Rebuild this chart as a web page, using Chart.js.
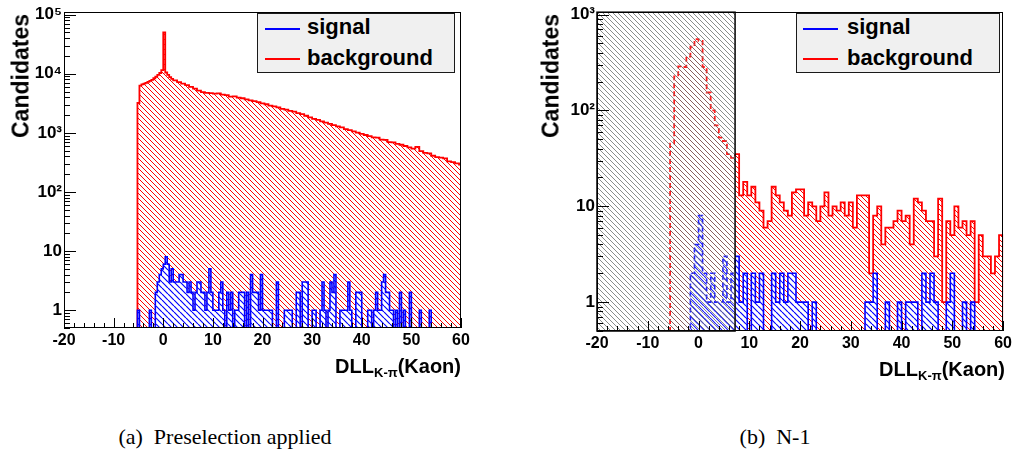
<!DOCTYPE html>
<html>
<head>
<meta charset="utf-8">
<script src="https://cdn.jsdelivr.net/npm/chart.js@4.4.1/dist/chart.umd.min.js"></script>
<style>
  body { margin: 0; background: #fff; width: 1015px; height: 453px; position: relative; overflow: hidden;
         font-family: "Liberation Sans", Arial, sans-serif; }
  canvas { position: absolute; top: 0; }
  #cA { left: 0; }
  #cB { left: 530px; }
  .ytitle { position: absolute; top: 14px; font-weight: bold; font-size: 23px; line-height: 23px; white-space: nowrap;
            transform-origin: 0 0; transform: rotate(-90deg) translate(-100%, -50%); }
  .xtitle { position: absolute; font-weight: bold; font-size: 20px; line-height: 20px; white-space: nowrap; }
  .xtitle sub { font-size: 13px; line-height: 0; vertical-align: -4px; }
  .legend { position: absolute; top: 13px; height: 60px; background: #f0f0f0; border: 1.5px solid #1a1a1a; box-sizing: border-box; }
  .lline { position: absolute; height: 2px; width: 35px; }
  .ltext { position: absolute; font-weight: bold; font-size: 22px; line-height: 22px; white-space: nowrap; }
  .caption { position: absolute; top: 426px; font-family: "Liberation Serif", serif; font-size: 22px; line-height: 22px;
             white-space: nowrap; transform: translateX(-50%); }
</style>
</head>
<body>
<canvas id="cA" width="480" height="360"></canvas>
<canvas id="cB" width="485" height="360"></canvas>

<div class="ytitle" style="left:21px">Candidates</div>
<div class="ytitle" style="left:551px">Candidates</div>
<div class="xtitle" style="right:554px; top:356px">DLL<sub>K-π</sub>(Kaon)</div>
<div class="xtitle" style="right:10px; top:359px">DLL<sub>K-π</sub>(Kaon)</div>

<div class="legend" style="left:257px; width:198px"></div>
<div class="lline" style="left:265px; top:28px; background:#0000ff"></div>
<div class="ltext" style="left:307px; top:16px">signal</div>
<div class="lline" style="left:265px; top:58px; background:#ff0000"></div>
<div class="ltext" style="left:307px; top:47px">background</div>

<div class="legend" style="left:796px; width:204px"></div>
<div class="lline" style="left:803px; top:28px; background:#0000ff"></div>
<div class="ltext" style="left:847px; top:16px">signal</div>
<div class="lline" style="left:803px; top:58px; background:#ff0000"></div>
<div class="ltext" style="left:847px; top:47px">background</div>

<div class="caption" style="left:225px">(a)&nbsp; Preselection applied</div>
<div class="caption" style="left:775px">(b)&nbsp; N-1</div>

<script>
// ---- panel (a): preselection applied ----
var bgAFineStart = -5.2, bgAFineWidth = 0.4;
var bgAFine = [3200, 6300, 6600, 6800, 7000, 7300, 7600, 7900, 8400, 8900, 9600, 10300, 11500, 50000, 10500, 9600, 8800, 8200];
var bgACoarseStart = 2.0, bgACoarseWidth = 0.8;
var bgACoarse = [7700, 7200, 6800, 6400, 6000, 5600, 5200, 4900, 4750, 4700,
                 4600, 4650, 4450, 4350, 4100, 4150, 3950, 3850, 3700, 3550,
                 3450, 3300, 3150, 3050, 2900, 2800, 2700, 2550, 2480, 2350,
                 2280, 2150, 2080, 1950, 1830, 1720, 1660, 1560, 1490, 1420,
                 1350, 1290, 1240, 1160, 1110, 1060, 1010, 960, 920, 880,
                 840, 830, 770, 760, 700, 690, 650, 630, 600, 570,
                 540, 580, 490, 460, 450, 410, 390, 380, 370, 330,
                 320, 305, 290];
var sigAWidth = 0.4;
var sigAEdge = [-5.2, -2.8, -1.6, -1.2, -0.8, -0.4, 0.0, 0.4, 0.8, 1.2,
                1.6, 2.0, 2.4, 2.8, 3.2, 3.6, 4.0, 4.4, 4.8, 5.2,
                5.6, 6.0, 6.4, 6.8, 7.2, 7.6, 8.0, 8.4, 8.8, 9.2,
                9.6, 10.0, 10.4, 10.8, 11.2, 11.6, 12.0, 12.8, 13.2, 13.6,
                14.4, 14.8, 15.2, 15.6, 16.0, 16.8, 17.6, 18.0, 18.4, 18.8,
                19.2, 19.6, 20.0, 20.4, 20.8, 21.2, 21.6, 22.8, 24.4, 24.8,
                25.2, 25.6, 26.8, 27.2, 28.0, 28.4, 28.8, 30.0, 30.4, 31.6,
                32.0, 32.4, 33.2, 33.6, 34.0, 34.4, 35.6, 36.0, 36.4, 36.8,
                37.2, 37.6, 38.8, 39.2, 39.6, 41.2, 41.6, 42.4, 42.8, 43.2,
                43.6, 44.0, 44.4, 44.8, 45.2, 45.6, 46.0, 46.8, 47.6, 48.4,
                49.6, 51.6, 53.6];
var sigACount = [1, 1, 2, 3, 4, 5, 6, 8, 6, 3,
                 5, 3, 3, 3, 4, 4, 3, 3, 2, 3,
                 2, 1, 2, 3, 3, 2, 2, 1, 2, 5,
                 2, 1, 1, 1, 2, 3, 1, 2, 1, 2,
                 1, 1, 2, 2, 2, 2, 4, 2, 2, 2,
                 1, 4, 1, 1, 1, 1, 1, 3, 1, 1,
                 1, 1, 2, 2, 3, 3, 3, 1, 1, 1,
                 3, 1, 1, 3, 2, 4, 1, 1, 1, 1,
                 3, 1, 2, 2, 2, 1, 1, 1, 2, 1,
                 1, 3, 4, 2, 2, 1, 1, 1, 2, 1,
                 2, 1, 1];

// ---- panel (b): N-1 ----
var binB = 0.8;
var bgBStart = -5.6;
var bgB = [45, 227, 289, 284, 365, 462, 555, 533, 284, 154, 100, 70, 52, 48, 35, 32, 35,
           13, 18, 13, 16, 11, 9, 6, 7, 16, 13, 11, 9, 8, 14, 15, 15, 8, 11, 10, 7,
           10, 14, 8, 10, 9, 11, 8, 11, 6, 13, 13, 13, 2, 8, 10, 4, 6, 6, 7, 9,
           7, 8, 4, 12, 11, 9, 7, 7, 3, 12, 1, 7, 5, 10, 6, 7, 5, 7, 1, 5, 3, 3, 2, 3, 5];
var sigBStart = -1.6;
var sigB = [2, 4, 8, 2, 1, 2, 1, 1, 3, 1, 2, 3,
            1, 2, 0, 2, 1, 2, 0, 0, 2, 1, 2, 1, 2, 2, 1, 1, 1, 0, 1, 0,
            0, 0, 0, 0, 0, 0, 0, 0, 0, 0, 0, 1, 1, 2, 0, 0, 1, 0, 0, 1,
            0, 1, 1, 1, 0, 2, 1, 2, 1, 0, 0, 1, 2, 0, 0, 1, 0, 1];
var cutB = 7.2;   // N-1 cut: region below is shaded

var xMin = -20, xMax = 60;
var xTicks = [-20, -10, 0, 10, 20, 30, 40, 50, 60];
var yTicksA = [1, 10, 100, 1000, 10000, 100000];
var yLabelsA = ['1', '10', '10²', '10³', '10⁴', '10⁵'];
var yTicksB = [1, 10, 100, 1000];
var yLabelsB = ['1', '10', '10²', '10³'];
var yFloor = 0.5;

function hatch(color, size, width, bg) {
  var c = document.createElement('canvas');
  c.width = size; c.height = size;
  var g = c.getContext('2d');
  if (bg) { g.fillStyle = bg; g.fillRect(0, 0, size, size); }
  g.strokeStyle = color; g.lineWidth = width;
  g.beginPath();
  for (var k = -1; k <= 1; k++) { g.moveTo(k * size, 0); g.lineTo(k * size + size, size); }
  g.stroke();
  return g.createPattern(c, 'repeat');
}

function edgesFrom(start, width, n) {
  var e = [];
  for (var i = 0; i <= n; i++) e.push(+(start + i * width).toFixed(3));
  return e;
}

// step outline of a histogram, zero bins sit on the floor of the log axis
function histPoints(edges, counts) {
  var pts = [{x: xMin, y: yFloor}, {x: edges[0], y: yFloor}];
  for (var i = 0; i < counts.length; i++) pts.push({x: edges[i], y: counts[i] > 0 ? counts[i] : yFloor});
  var last = edges[edges.length - 1];
  pts.push({x: last, y: counts[counts.length - 1] > 0 ? counts[counts.length - 1] : yFloor});
  pts.push({x: last, y: yFloor});
  if (last < xMax) pts.push({x: xMax, y: yFloor});
  return pts;
}

var bgAEdges = edgesFrom(bgAFineStart, bgAFineWidth, bgAFine.length)
  .concat(edgesFrom(bgACoarseStart, bgACoarseWidth, bgACoarse.length).slice(1));
var bgAPts = histPoints(bgAEdges, bgAFine.concat(bgACoarse));

var nA = Math.round((xMax - xMin) / sigAWidth);
var sigAFull = new Array(nA).fill(0);
sigAEdge.forEach(function (e, i) { sigAFull[Math.round((e - xMin) / sigAWidth)] = sigACount[i]; });
var sigAPts = histPoints(edgesFrom(xMin, sigAWidth, nA), sigAFull);

var bgBPts = histPoints(edgesFrom(bgBStart, binB, bgB.length), bgB);
var sigBPts = histPoints(edgesFrom(sigBStart, binB, sigB.length), sigB);

var redHatch = hatch('#ff0000', 5, 1, null);
var blueHatch = hatch('#0000ff', 6, 1.2, '#ffffff');
var grayHatch = hatch('rgba(110,110,110,0.8)', 5, 1, null);

// ROOT-like frame, inward ticks and the shaded N-1 box
var rootFrame = {
  id: 'rootFrame',
  afterDatasetsDraw: function (chart, args, opts) {
    var a = chart.chartArea, ctx = chart.ctx, xs = chart.scales.x, ys = chart.scales.y;
    ctx.save();
    if (opts.cut != null) {
      var xc = xs.getPixelForValue(opts.cut);
      ctx.fillStyle = 'rgba(255,255,255,0.12)';
      ctx.fillRect(a.left, a.top, xc - a.left, a.bottom - a.top);
      ctx.fillStyle = grayHatch;
      ctx.fillRect(a.left, a.top, xc - a.left, a.bottom - a.top);
      ctx.strokeStyle = '#000'; ctx.lineWidth = 1.5;
      ctx.strokeRect(a.left, a.top, xc - a.left, a.bottom - a.top);
    }
    ctx.strokeStyle = '#000'; ctx.lineWidth = 1;
    ctx.beginPath();
    for (var v = xMin; v <= xMax + 1e-9; v += 2) {
      var px = Math.round(xs.getPixelForValue(v)) + 0.5;
      var major = Math.abs(v / 10 - Math.round(v / 10)) < 1e-6;
      ctx.moveTo(px, a.bottom); ctx.lineTo(px, a.bottom - (major ? 10 : 5));
    }
    for (var d = -1; d <= 5; d++) {
      for (var m = 1; m <= 9; m++) {
        var val = m * Math.pow(10, d);
        if (val < ys.min || val > ys.max) continue;
        var py = Math.round(ys.getPixelForValue(val)) + 0.5;
        ctx.moveTo(a.left, py); ctx.lineTo(a.left + (m === 1 ? 12 : 6), py);
      }
    }
    ctx.stroke();
    ctx.strokeRect(Math.round(a.left) + 0.5, Math.round(a.top) + 0.5, Math.round(a.right - a.left) - 1, Math.round(a.bottom - a.top) - 1);
    ctx.restore();
  }
};

function makeChart(id, sigPts, bgPts, yMax, yTicks, yLabels, pad, yWidth, xHeight, cut) {
  var dash = function (c) { return cut != null && c.p1.parsed.x <= cut + 1e-6 ? [5, 3] : undefined; };
  return new Chart(document.getElementById(id), {
    type: 'line',
    data: {
      datasets: [
        {label: 'signal', data: sigPts, order: 0, borderColor: '#0000ff', borderWidth: 1.6,
         backgroundColor: blueHatch, fill: 'start', stepped: true, pointRadius: 0,
         segment: {borderDash: dash}},
        {label: 'background', data: bgPts, order: 1, borderColor: '#ff0000', borderWidth: 1.8,
         backgroundColor: redHatch, fill: 'start', stepped: true, pointRadius: 0,
         segment: {borderDash: dash}}
      ]
    },
    options: {
      responsive: false,
      animation: false,
      layout: {padding: pad},
      plugins: {legend: {display: false}, tooltip: {enabled: false}, rootFrame: {cut: cut}},
      scales: {
        x: {
          type: 'linear', min: xMin, max: xMax,
          grid: {display: false, drawTicks: false}, border: {display: false},
          afterFit: function (s) { s.height = xHeight; },
          afterBuildTicks: function (s) { s.ticks = xTicks.map(function (v) { return {value: v}; }); },
          ticks: {font: {family: 'Liberation Sans', weight: 'bold', size: 16}, color: '#000', padding: 3,
                  maxRotation: 0, autoSkip: false,
                  callback: function (v) { return String(v); }}
        },
        y: {
          type: 'logarithmic', min: yFloor, max: yMax,
          grid: {display: false, drawTicks: false}, border: {display: false},
          afterFit: function (s) { s.width = yWidth; },
          afterBuildTicks: function (s) { s.ticks = yTicks.map(function (v) { return {value: v}; }); },
          ticks: {font: {family: 'Liberation Sans', weight: 'bold', size: 17}, color: '#000', padding: 2, autoSkip: false,
                  callback: function (v) { return yLabels[yTicks.indexOf(v)]; }}
        }
      }
    },
    plugins: [rootFrame]
  });
}

makeChart('cA', sigAPts, bgAPts, 1.1e5, yTicksA, yLabelsA, {left: 0, right: 19, top: 8, bottom: 0}, 64, 32, null);
makeChart('cB', sigBPts, bgBPts, 1060, yTicksB, yLabelsB, {left: 0, right: 10, top: 7, bottom: 0}, 67, 29, cutB);
</script>
</body>
</html>
